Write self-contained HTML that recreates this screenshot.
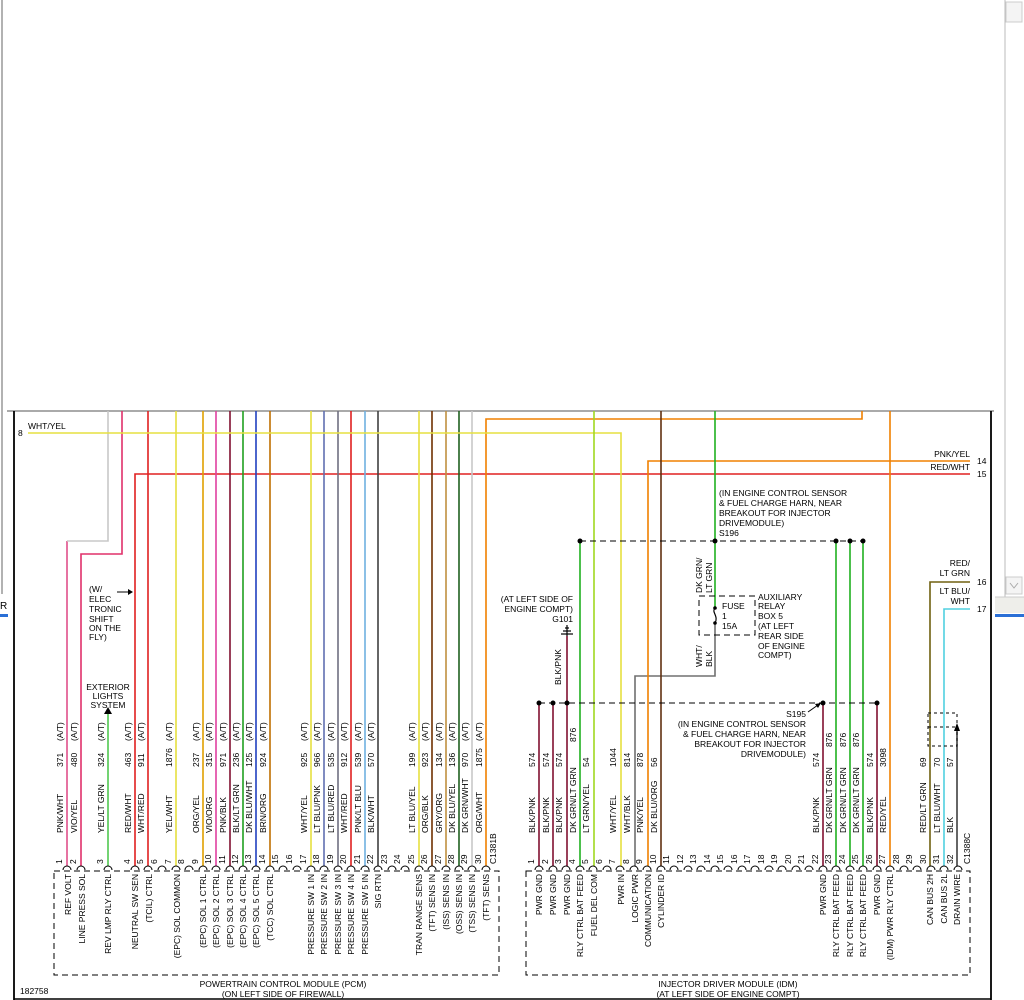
<!DOCTYPE html>
<html><head><meta charset="utf-8"><style>
html,body{margin:0;padding:0;background:#fff;width:1024px;height:1000px;overflow:hidden}
svg{display:block}
text{font-family:"Liberation Sans",sans-serif;font-size:8.5px;fill:#000}
.w{fill:none;stroke-width:1.6}
.d{fill:none;stroke:#000;stroke-width:1;stroke-dasharray:6,4}
</style></head><body>
<svg width="1024" height="1000" viewBox="0 0 1024 1000" xmlns="http://www.w3.org/2000/svg">
<line x1="2" y1="0" x2="2" y2="594" stroke="#999" stroke-width="1.5"/>
<text x="0" y="609" style="font-size:10px">R</text>
<rect x="0" y="614" width="8" height="3" fill="#2a6fd6"/>
<line x1="1005" y1="0" x2="1005" y2="597" stroke="#bbb" stroke-width="1"/>
<rect x="1006" y="2" width="16" height="20" fill="#f4f4f4" stroke="#ccc"/>
<rect x="1006" y="577" width="16" height="17" fill="#f4f4f4" stroke="#ccc"/>
<path d="M1010 583 L1014 588 L1018 583" fill="none" stroke="#aaa"/>
<rect x="995" y="597" width="29" height="16" fill="#eeeeea"/>
<line x1="995" y1="597" x2="1024" y2="597" stroke="#ccc"/>
<rect x="995" y="614" width="29" height="3" fill="#2a6fd6"/>
<line x1="7" y1="411" x2="994" y2="411" stroke="#777" stroke-width="1.2"/>
<line x1="14" y1="411" x2="14" y2="1000" stroke="#000" stroke-width="1.8"/>
<line x1="991" y1="411" x2="991" y2="1000" stroke="#000" stroke-width="1.8"/>
<line x1="14" y1="999" x2="991" y2="999" stroke="#000" stroke-width="1.5"/>

<polyline class="w" stroke="#e0508a" points="67,866 67,541"/>
<polyline class="w" stroke="#c8c8c8" points="67,541 108,541 108,411"/>
<polyline class="w" stroke="#e0306a" points="81,866 81,554 122,554 122,411"/>
<polyline class="w" stroke="#50c850" points="108,866 108,714"/>
<polyline class="w" stroke="#e02020" points="135,866 135,474 970,474"/>
<polyline class="w" stroke="#e02020" points="148,866 148,411"/>
<polyline class="w" stroke="#e6e040" points="176,866 176,411"/>
<polyline class="w" stroke="#e0a000" points="203,866 203,411"/>
<polyline class="w" stroke="#e040a0" points="216,866 216,411"/>
<polyline class="w" stroke="#801030" points="230,866 230,411"/>
<polyline class="w" stroke="#20a020" points="243,866 243,411"/>
<polyline class="w" stroke="#2040c0" points="256,866 256,411"/>
<polyline class="w" stroke="#c07000" points="270,866 270,411"/>
<polyline class="w" stroke="#e6e040" points="311,866 311,411"/>
<polyline class="w" stroke="#6070b0" points="324,866 324,411"/>
<polyline class="w" stroke="#707080" points="338,866 338,411"/>
<polyline class="w" stroke="#e02020" points="351,866 351,411"/>
<polyline class="w" stroke="#70b0e0" points="365,866 365,411"/>
<polyline class="w" stroke="#404040" points="378,866 378,411"/>
<polyline class="w" stroke="#e6e040" points="419,866 419,411"/>
<polyline class="w" stroke="#703000" points="432,866 432,411"/>
<polyline class="w" stroke="#c09040" points="446,866 446,411"/>
<polyline class="w" stroke="#206020" points="459,866 459,411"/>
<polyline class="w" stroke="#c8c8c8" points="472,866 472,411"/>
<polyline class="w" stroke="#f08000" points="486,866 486,419 862,419 862,411"/>
<polyline class="w" stroke="#e6e040" points="28,433 621,433 621,866"/>

<polyline class="w" stroke="#801030" points="539,866 539,703"/>
<polyline class="w" stroke="#801030" points="553,866 553,703"/>
<polyline class="w" stroke="#801030" points="567,866 567,636"/>
<polyline class="w" stroke="#20b020" points="580,866 580,541"/>
<polyline class="w" stroke="#a0d820" points="594,866 594,411"/>
<polyline class="w" stroke="#707070" points="635,866 635,676 715,676 715,623"/>
<polyline class="w" stroke="#f08000" points="648,866 648,461 970,461"/>
<polyline class="w" stroke="#603010" points="661,866 661,411"/>
<polyline class="w" stroke="#20b020" points="715,411 715,608"/>
<polyline class="w" stroke="#801030" points="823,866 823,703"/>
<polyline class="w" stroke="#20b020" points="836,866 836,541"/>
<polyline class="w" stroke="#20b020" points="850,866 850,541"/>
<polyline class="w" stroke="#20b020" points="863,866 863,541"/>
<polyline class="w" stroke="#801030" points="877,866 877,703"/>
<polyline class="w" stroke="#f08000" points="890,866 890,411"/>
<polyline class="w" stroke="#706010" points="930,866 930,582 970,582"/>
<polyline class="w" stroke="#50d0e0" points="944,866 944,609 970,609"/>
<polyline class="w" stroke="#404040" points="957,866 957,727"/>
<polygon points="957,723 954,731 960,731" fill="#000"/>

<line class="d" x1="539" y1="703" x2="877" y2="703"/>
<line class="d" x1="580" y1="541" x2="863" y2="541"/>
<g fill="#000">
<circle cx="539" cy="703" r="2.5"/><circle cx="553" cy="703" r="2.5"/><circle cx="567" cy="703" r="2.5"/><circle cx="823" cy="703" r="2.5"/><circle cx="877" cy="703" r="2.5"/>
<circle cx="580" cy="541" r="2.5"/><circle cx="715" cy="541" r="2.5"/><circle cx="836" cy="541" r="2.5"/><circle cx="850" cy="541" r="2.5"/><circle cx="863" cy="541" r="2.5"/>
</g>
<rect class="d" x="699" y="596" width="56" height="39"/>
<path d="M715 608 C711 612 719 616 715 623" fill="none" stroke="#000" stroke-width="1.2"/>
<circle cx="715" cy="608" r="1.8"/><circle cx="715" cy="623" r="1.8"/>
<g stroke="#000" stroke-width="1.2"><line x1="561" y1="634" x2="573" y2="634"/><line x1="563" y1="631" x2="571" y2="631"/><line x1="565" y1="628" x2="569" y2="628"/><line x1="567" y1="625" x2="567" y2="636"/></g>
<rect class="d" x="928" y="713" width="29" height="33" style="stroke-dasharray:3,3"/>
<line class="d" x1="928" y1="727" x2="957" y2="727" style="stroke-dasharray:3,3"/>
<line x1="117" y1="592" x2="130" y2="592" stroke="#000"/><polygon points="133,592 128,589 128,595"/>
<polygon points="108,707 104,714 112,714"/>
<line x1="808" y1="712" x2="818" y2="705" stroke="#000"/><polygon points="821,703 815,704 818,708"/>

<rect class="d" x="54" y="871" width="445" height="104"/>
<rect class="d" x="526" y="871" width="444" height="104"/>
<g fill="none" stroke="#000" stroke-width="1">
<path d="M63 870a4 4 0 0 1 8 0M77 870a4 4 0 0 1 8 0M104 870a4 4 0 0 1 8 0M131 870a4 4 0 0 1 8 0M144 870a4 4 0 0 1 8 0M158 870a4 4 0 0 1 8 0M172 870a4 4 0 0 1 8 0M185 870a4 4 0 0 1 8 0M199 870a4 4 0 0 1 8 0M212 870a4 4 0 0 1 8 0M226 870a4 4 0 0 1 8 0M239 870a4 4 0 0 1 8 0M252 870a4 4 0 0 1 8 0M266 870a4 4 0 0 1 8 0M279 870a4 4 0 0 1 8 0M293 870a4 4 0 0 1 8 0M307 870a4 4 0 0 1 8 0M320 870a4 4 0 0 1 8 0M334 870a4 4 0 0 1 8 0M347 870a4 4 0 0 1 8 0M361 870a4 4 0 0 1 8 0M374 870a4 4 0 0 1 8 0M388 870a4 4 0 0 1 8 0M401 870a4 4 0 0 1 8 0M415 870a4 4 0 0 1 8 0M428 870a4 4 0 0 1 8 0M442 870a4 4 0 0 1 8 0M455 870a4 4 0 0 1 8 0M468 870a4 4 0 0 1 8 0M482 870a4 4 0 0 1 8 0"/>
<path d="M535 870a4 4 0 0 1 8 0M549 870a4 4 0 0 1 8 0M562 870a4 4 0 0 1 8 0M576 870a4 4 0 0 1 8 0M589 870a4 4 0 0 1 8 0M603 870a4 4 0 0 1 8 0M616 870a4 4 0 0 1 8 0M630 870a4 4 0 0 1 8 0M643 870a4 4 0 0 1 8 0M657 870a4 4 0 0 1 8 0M670 870a4 4 0 0 1 8 0M684 870a4 4 0 0 1 8 0M697 870a4 4 0 0 1 8 0M711 870a4 4 0 0 1 8 0M724 870a4 4 0 0 1 8 0M738 870a4 4 0 0 1 8 0M751 870a4 4 0 0 1 8 0M765 870a4 4 0 0 1 8 0M778 870a4 4 0 0 1 8 0M792 870a4 4 0 0 1 8 0M805 870a4 4 0 0 1 8 0M819 870a4 4 0 0 1 8 0M832 870a4 4 0 0 1 8 0M846 870a4 4 0 0 1 8 0M859 870a4 4 0 0 1 8 0M873 870a4 4 0 0 1 8 0M886 870a4 4 0 0 1 8 0M900 870a4 4 0 0 1 8 0M913 870a4 4 0 0 1 8 0M927 870a4 4 0 0 1 8 0M940 870a4 4 0 0 1 8 0M954 870a4 4 0 0 1 8 0"/>
</g>

<g>
<text transform="translate(62,864) rotate(-90)">1</text><text transform="translate(76,864) rotate(-90)">2</text><text transform="translate(103,864) rotate(-90)">3</text><text transform="translate(130,864) rotate(-90)">4</text><text transform="translate(143,864) rotate(-90)">5</text><text transform="translate(157,864) rotate(-90)">6</text><text transform="translate(171,864) rotate(-90)">7</text><text transform="translate(184,864) rotate(-90)">8</text><text transform="translate(198,864) rotate(-90)">9</text><text transform="translate(211,864) rotate(-90)">10</text><text transform="translate(225,864) rotate(-90)">11</text><text transform="translate(238,864) rotate(-90)">12</text><text transform="translate(251,864) rotate(-90)">13</text><text transform="translate(265,864) rotate(-90)">14</text><text transform="translate(278,864) rotate(-90)">15</text><text transform="translate(292,864) rotate(-90)">16</text><text transform="translate(306,864) rotate(-90)">17</text><text transform="translate(319,864) rotate(-90)">18</text><text transform="translate(333,864) rotate(-90)">19</text><text transform="translate(346,864) rotate(-90)">20</text><text transform="translate(360,864) rotate(-90)">21</text><text transform="translate(373,864) rotate(-90)">22</text><text transform="translate(387,864) rotate(-90)">23</text><text transform="translate(400,864) rotate(-90)">24</text><text transform="translate(414,864) rotate(-90)">25</text><text transform="translate(427,864) rotate(-90)">26</text><text transform="translate(441,864) rotate(-90)">27</text><text transform="translate(454,864) rotate(-90)">28</text><text transform="translate(467,864) rotate(-90)">29</text><text transform="translate(481,864) rotate(-90)">30</text><text transform="translate(496,864) rotate(-90)">C1381B</text>
</g>
<g>
<text transform="translate(63,833) rotate(-90)">PNK/WHT</text><text transform="translate(63,767) rotate(-90)">371</text><text transform="translate(63,741) rotate(-90)">(A/T)</text>
<text transform="translate(77,833) rotate(-90)">VIO/YEL</text><text transform="translate(77,767) rotate(-90)">480</text><text transform="translate(77,741) rotate(-90)">(A/T)</text>
<text transform="translate(104,833) rotate(-90)">YEL/LT GRN</text><text transform="translate(104,767) rotate(-90)">324</text><text transform="translate(104,741) rotate(-90)">(A/T)</text>
<text transform="translate(131,833) rotate(-90)">RED/WHT</text><text transform="translate(131,767) rotate(-90)">463</text><text transform="translate(131,741) rotate(-90)">(A/T)</text>
<text transform="translate(144,833) rotate(-90)">WHT/RED</text><text transform="translate(144,767) rotate(-90)">911</text><text transform="translate(144,741) rotate(-90)">(A/T)</text>
<text transform="translate(172,833) rotate(-90)">YEL/WHT</text><text transform="translate(172,767) rotate(-90)">1876</text><text transform="translate(172,741) rotate(-90)">(A/T)</text>
<text transform="translate(199,833) rotate(-90)">ORG/YEL</text><text transform="translate(199,767) rotate(-90)">237</text><text transform="translate(199,741) rotate(-90)">(A/T)</text>
<text transform="translate(212,833) rotate(-90)">VIO/ORG</text><text transform="translate(212,767) rotate(-90)">315</text><text transform="translate(212,741) rotate(-90)">(A/T)</text>
<text transform="translate(226,833) rotate(-90)">PNK/BLK</text><text transform="translate(226,767) rotate(-90)">971</text><text transform="translate(226,741) rotate(-90)">(A/T)</text>
<text transform="translate(239,833) rotate(-90)">BLK/LT GRN</text><text transform="translate(239,767) rotate(-90)">236</text><text transform="translate(239,741) rotate(-90)">(A/T)</text>
<text transform="translate(252,833) rotate(-90)">DK BLU/WHT</text><text transform="translate(252,767) rotate(-90)">125</text><text transform="translate(252,741) rotate(-90)">(A/T)</text>
<text transform="translate(266,833) rotate(-90)">BRN/ORG</text><text transform="translate(266,767) rotate(-90)">924</text><text transform="translate(266,741) rotate(-90)">(A/T)</text>
<text transform="translate(307,833) rotate(-90)">WHT/YEL</text><text transform="translate(307,767) rotate(-90)">925</text><text transform="translate(307,741) rotate(-90)">(A/T)</text>
<text transform="translate(320,833) rotate(-90)">LT BLU/PNK</text><text transform="translate(320,767) rotate(-90)">966</text><text transform="translate(320,741) rotate(-90)">(A/T)</text>
<text transform="translate(334,833) rotate(-90)">LT BLU/RED</text><text transform="translate(334,767) rotate(-90)">535</text><text transform="translate(334,741) rotate(-90)">(A/T)</text>
<text transform="translate(347,833) rotate(-90)">WHT/RED</text><text transform="translate(347,767) rotate(-90)">912</text><text transform="translate(347,741) rotate(-90)">(A/T)</text>
<text transform="translate(361,833) rotate(-90)">PNK/LT BLU</text><text transform="translate(361,767) rotate(-90)">539</text><text transform="translate(361,741) rotate(-90)">(A/T)</text>
<text transform="translate(374,833) rotate(-90)">BLK/WHT</text><text transform="translate(374,767) rotate(-90)">570</text><text transform="translate(374,741) rotate(-90)">(A/T)</text>
<text transform="translate(415,833) rotate(-90)">LT BLU/YEL</text><text transform="translate(415,767) rotate(-90)">199</text><text transform="translate(415,741) rotate(-90)">(A/T)</text>
<text transform="translate(428,833) rotate(-90)">ORG/BLK</text><text transform="translate(428,767) rotate(-90)">923</text><text transform="translate(428,741) rotate(-90)">(A/T)</text>
<text transform="translate(442,833) rotate(-90)">GRY/ORG</text><text transform="translate(442,767) rotate(-90)">134</text><text transform="translate(442,741) rotate(-90)">(A/T)</text>
<text transform="translate(455,833) rotate(-90)">DK BLU/YEL</text><text transform="translate(455,767) rotate(-90)">136</text><text transform="translate(455,741) rotate(-90)">(A/T)</text>
<text transform="translate(468,833) rotate(-90)">DK GRN/WHT</text><text transform="translate(468,767) rotate(-90)">970</text><text transform="translate(468,741) rotate(-90)">(A/T)</text>
<text transform="translate(482,833) rotate(-90)">ORG/WHT</text><text transform="translate(482,767) rotate(-90)">1875</text><text transform="translate(482,741) rotate(-90)">(A/T)</text>
</g>
<g text-anchor="end">
<text transform="translate(71,874) rotate(-90)">REF VOLT</text>
<text transform="translate(85,874) rotate(-90)">LINE PRESS SOL</text>
<text transform="translate(111,874) rotate(-90)">REV LMP RLY CTRL</text>
<text transform="translate(138,874) rotate(-90)">NEUTRAL SW SEN</text>
<text transform="translate(152,874) rotate(-90)">(TCIL) CTRL</text>
<text transform="translate(180,874) rotate(-90)">(EPC) SOL COMMON</text>
<text transform="translate(206,874) rotate(-90)">(EPC) SOL 1 CTRL</text>
<text transform="translate(219,874) rotate(-90)">(EPC) SOL 2 CTRL</text>
<text transform="translate(233,874) rotate(-90)">(EPC) SOL 3 CTRL</text>
<text transform="translate(246,874) rotate(-90)">(EPC) SOL 4 CTRL</text>
<text transform="translate(259,874) rotate(-90)">(EPC) SOL 5 CTRL</text>
<text transform="translate(273,874) rotate(-90)">(TCC) SOL CTRL</text>
<text transform="translate(314,874) rotate(-90)">PRESSURE SW 1 IN</text>
<text transform="translate(327,874) rotate(-90)">PRESSURE SW 2 IN</text>
<text transform="translate(341,874) rotate(-90)">PRESSURE SW 3 IN</text>
<text transform="translate(354,874) rotate(-90)">PRESSURE SW 4 IN</text>
<text transform="translate(368,874) rotate(-90)">PRESSURE SW 5 IN</text>
<text transform="translate(381,874) rotate(-90)">SIG RTN</text>
<text transform="translate(422,874) rotate(-90)">TRAN RANGE SENS</text>
<text transform="translate(435,874) rotate(-90)">(TFT) SENS IN</text>
<text transform="translate(449,874) rotate(-90)">(ISS) SENS IN</text>
<text transform="translate(462,874) rotate(-90)">(OSS) SENS IN</text>
<text transform="translate(475,874) rotate(-90)">(TSS) SENS IN</text>
<text transform="translate(489,874) rotate(-90)">(TFT) SENS</text>
</g>

<g>
<text transform="translate(534,864) rotate(-90)">1</text><text transform="translate(548,864) rotate(-90)">2</text><text transform="translate(561,864) rotate(-90)">3</text><text transform="translate(575,864) rotate(-90)">4</text><text transform="translate(588,864) rotate(-90)">5</text><text transform="translate(602,864) rotate(-90)">6</text><text transform="translate(615,864) rotate(-90)">7</text><text transform="translate(629,864) rotate(-90)">8</text><text transform="translate(642,864) rotate(-90)">9</text><text transform="translate(656,864) rotate(-90)">10</text><text transform="translate(669,864) rotate(-90)">11</text><text transform="translate(683,864) rotate(-90)">12</text><text transform="translate(696,864) rotate(-90)">13</text><text transform="translate(710,864) rotate(-90)">14</text><text transform="translate(723,864) rotate(-90)">15</text><text transform="translate(737,864) rotate(-90)">16</text><text transform="translate(750,864) rotate(-90)">17</text><text transform="translate(764,864) rotate(-90)">18</text><text transform="translate(777,864) rotate(-90)">19</text><text transform="translate(791,864) rotate(-90)">20</text><text transform="translate(804,864) rotate(-90)">21</text><text transform="translate(818,864) rotate(-90)">22</text><text transform="translate(831,864) rotate(-90)">23</text><text transform="translate(845,864) rotate(-90)">24</text><text transform="translate(858,864) rotate(-90)">25</text><text transform="translate(872,864) rotate(-90)">26</text><text transform="translate(885,864) rotate(-90)">27</text><text transform="translate(899,864) rotate(-90)">28</text><text transform="translate(912,864) rotate(-90)">29</text><text transform="translate(926,864) rotate(-90)">30</text><text transform="translate(939,864) rotate(-90)">31</text><text transform="translate(953,864) rotate(-90)">32</text><text transform="translate(970,864) rotate(-90)">C1388C</text>
</g>
<g>
<text transform="translate(535,833) rotate(-90)">BLK/PNK</text><text transform="translate(535,767) rotate(-90)">574</text>
<text transform="translate(549,833) rotate(-90)">BLK/PNK</text><text transform="translate(549,767) rotate(-90)">574</text>
<text transform="translate(562,833) rotate(-90)">BLK/PNK</text><text transform="translate(562,767) rotate(-90)">574</text>
<text transform="translate(576,833) rotate(-90)">DK GRN/LT GRN</text><text transform="translate(576,742) rotate(-90)">876</text>
<text transform="translate(589,833) rotate(-90)">LT GRN/YEL</text><text transform="translate(589,767) rotate(-90)">54</text>
<text transform="translate(616,833) rotate(-90)">WHT/YEL</text><text transform="translate(616,767) rotate(-90)">1044</text>
<text transform="translate(630,833) rotate(-90)">WHT/BLK</text><text transform="translate(630,767) rotate(-90)">814</text>
<text transform="translate(643,833) rotate(-90)">PNK/YEL</text><text transform="translate(643,767) rotate(-90)">878</text>
<text transform="translate(657,833) rotate(-90)">DK BLU/ORG</text><text transform="translate(657,767) rotate(-90)">56</text>
<text transform="translate(819,833) rotate(-90)">BLK/PNK</text><text transform="translate(819,767) rotate(-90)">574</text>
<text transform="translate(832,833) rotate(-90)">DK GRN/LT GRN</text><text transform="translate(832,747) rotate(-90)">876</text>
<text transform="translate(846,833) rotate(-90)">DK GRN/LT GRN</text><text transform="translate(846,747) rotate(-90)">876</text>
<text transform="translate(859,833) rotate(-90)">DK GRN/LT GRN</text><text transform="translate(859,747) rotate(-90)">876</text>
<text transform="translate(873,833) rotate(-90)">BLK/PNK</text><text transform="translate(873,767) rotate(-90)">574</text>
<text transform="translate(886,833) rotate(-90)">RED/YEL</text><text transform="translate(886,767) rotate(-90)">3098</text>
<text transform="translate(926,833) rotate(-90)">RED/LT GRN</text><text transform="translate(926,767) rotate(-90)">69</text>
<text transform="translate(940,833) rotate(-90)">LT BLU/WHT</text><text transform="translate(940,767) rotate(-90)">70</text>
<text transform="translate(953,833) rotate(-90)">BLK</text><text transform="translate(953,767) rotate(-90)">57</text>
</g>
<g text-anchor="end">
<text transform="translate(542,874) rotate(-90)">PWR GND</text>
<text transform="translate(556,874) rotate(-90)">PWR GND</text>
<text transform="translate(570,874) rotate(-90)">PWR GND</text>
<text transform="translate(583,874) rotate(-90)">RLY CTRL BAT FEED</text>
<text transform="translate(597,874) rotate(-90)">FUEL DEL COM</text>
<text transform="translate(624,874) rotate(-90)">PWR IN</text>
<text transform="translate(638,874) rotate(-90)">LOGIC PWR</text>
<text transform="translate(651,874) rotate(-90)">COMMUNICATION</text>
<text transform="translate(664,874) rotate(-90)">CYLINDER ID</text>
<text transform="translate(826,874) rotate(-90)">PWR GND</text>
<text transform="translate(839,874) rotate(-90)">RLY CTRL BAT FEED</text>
<text transform="translate(853,874) rotate(-90)">RLY CTRL BAT FEED</text>
<text transform="translate(866,874) rotate(-90)">RLY CTRL BAT FEED</text>
<text transform="translate(880,874) rotate(-90)">PWR GND</text>
<text transform="translate(893,874) rotate(-90)">(IDM) PWR RLY CTRL</text>
<text transform="translate(933,874) rotate(-90)">CAN BUS 2H</text>
<text transform="translate(947,874) rotate(-90)">CAN BUS 2L</text>
<text transform="translate(960,874) rotate(-90)">DRAIN WIRE</text>
</g>

<text x="18" y="436">8</text><text x="28" y="429">WHT/YEL</text>
<g><text x="89" y="592">(W/</text><text x="89" y="602">ELEC</text><text x="89" y="612">TRONIC</text><text x="89" y="622">SHIFT</text><text x="89" y="631">ON THE</text><text x="89" y="640">FLY)</text></g>
<g text-anchor="middle"><text x="108" y="690">EXTERIOR</text><text x="108" y="699">LIGHTS</text><text x="108" y="708">SYSTEM</text></g>
<g text-anchor="end"><text x="573" y="602">(AT LEFT SIDE OF</text><text x="573" y="612">ENGINE COMPT)</text><text x="573" y="622">G101</text>
<text x="970" y="457">PNK/YEL</text><text x="970" y="470">RED/WHT</text>
<text x="970" y="566">RED/</text><text x="970" y="576">LT GRN</text><text x="970" y="594">LT BLU/</text><text x="970" y="604">WHT</text>
<text x="806" y="717">S195</text><text x="806" y="727">(IN ENGINE CONTROL SENSOR</text><text x="806" y="737">&amp; FUEL CHARGE HARN, NEAR</text><text x="806" y="747">BREAKOUT FOR INJECTOR</text><text x="806" y="757">DRIVEMODULE)</text></g>
<text x="977" y="464">14</text><text x="977" y="477">15</text><text x="977" y="585">16</text><text x="977" y="612">17</text>
<text transform="translate(561,685) rotate(-90)">BLK/PNK</text>
<text transform="translate(702,593) rotate(-90)">DK GRN/</text><text transform="translate(712,593) rotate(-90)">LT GRN</text>
<text transform="translate(702,667) rotate(-90)">WHT/</text><text transform="translate(712,667) rotate(-90)">BLK</text>
<g><text x="719" y="496">(IN ENGINE CONTROL SENSOR</text><text x="719" y="506">&amp; FUEL CHARGE HARN, NEAR</text><text x="719" y="516">BREAKOUT FOR INJECTOR</text><text x="719" y="526">DRIVEMODULE)</text><text x="719" y="536">S196</text></g>
<g><text x="722" y="609">FUSE</text><text x="722" y="619">1</text><text x="722" y="629">15A</text>
<text x="758" y="600">AUXILIARY</text><text x="758" y="609">RELAY</text><text x="758" y="619">BOX 5</text><text x="758" y="629">(AT LEFT</text><text x="758" y="639">REAR SIDE</text><text x="758" y="649">OF ENGINE</text><text x="758" y="658">COMPT)</text></g>
<text x="20" y="994">182758</text>
<g text-anchor="middle"><text x="283" y="987">POWERTRAIN CONTROL MODULE (PCM)</text><text x="283" y="997">(ON LEFT SIDE OF FIREWALL)</text>
<text x="728" y="987">INJECTOR DRIVER MODULE (IDM)</text><text x="728" y="997">(AT LEFT SIDE OF ENGINE COMPT)</text></g>
</svg>
</body></html>
